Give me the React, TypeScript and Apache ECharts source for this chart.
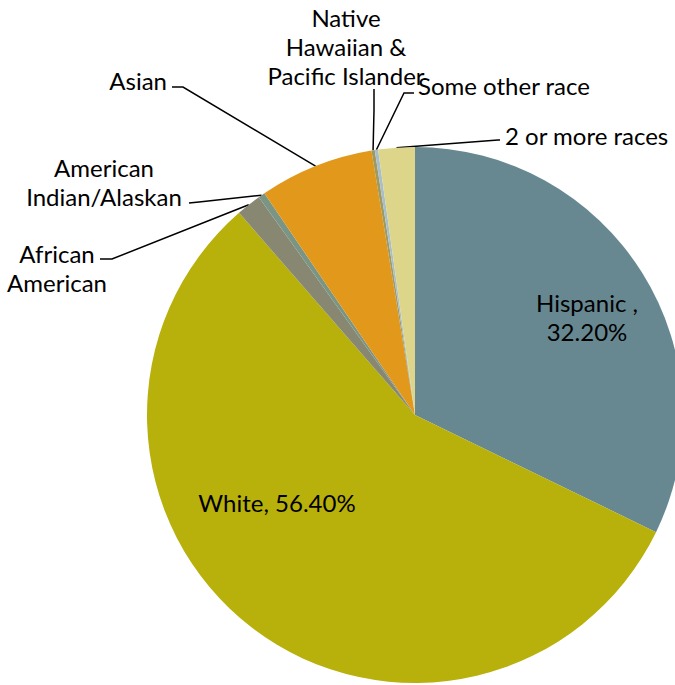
import React, { useEffect, useRef } from "react";
import * as echarts from "echarts";

const categories = [
  "Hispanic",
  "White",
  "African American",
  "American Indian/Alaskan",
  "Asian",
  "Native Hawaiian & Pacific Islander",
  "Some other race",
  "2 or more races",
];
const values = [32.2, 56.4, 1.5, 0.4, 6.9, 0.2, 0.2, 2.2];
const labelTexts = [
  "Hispanic ,\n32.20%",
  "White, 56.40%",
  "African\nAmerican",
  "American\nIndian/Alaskan",
  "Asian",
  "Native\nHawaiian &\nPacific Islander",
  "Some other race",
  "2 or more races",
];
const colors = [
  "#678891",
  "#B8B00B",
  "#888872",
  "#7B9585",
  "#E2981B",
  "#A19A5E",
  "#A8BFCB",
  "#DDD68A",
];

type Pt = [number, number];
// label placement (layout only)
const labelPlacement: {
  x: number;
  y: number;
  align: string;
  line: Pt[] | null;
}[] = [
  { x: 587, y: 317, align: "center", line: null },
  { x: 277, y: 502, align: "center", line: null },
  { x: 57, y: 268, align: "center", line: [[112, 259], [100, 259]] },
  { x: 104, y: 182, align: "center", line: [[199, 202], [189, 203]] },
  { x: 167, y: 80, align: "right", line: [[183, 87], [172, 87]] },
  { x: 346, y: 46, align: "center", line: [[374, 110], [374, 89]] },
  { x: 418, y: 85, align: "left", line: [[404, 93], [414, 93]] },
  { x: 505, y: 135, align: "left", line: [[498, 140], [500, 140]] },
];

const CX = 415;
const CY = 415;
const R = 268;

export default function App() {
  const ref = useRef<HTMLDivElement>(null);
  useEffect(() => {
    if (!ref.current) return;
    const chart = echarts.init(ref.current, null, { renderer: "svg" });
    const data = categories.map((name, i) => ({
      name,
      value: values[i],
      itemStyle: { color: colors[i] },
      label: {
        formatter: labelTexts[i],
        position: labelPlacement[i].line ? "outside" : "inside",
      },
      labelLine: { show: !!labelPlacement[i].line },
    }));
    chart.setOption({
      animation: false,
      backgroundColor: "#ffffff",
      series: [
        {
          type: "pie",
          center: [CX, CY],
          radius: R,
          startAngle: 90,
          clockwise: true,
          avoidLabelOverlap: false,
          itemStyle: { borderWidth: 0 },
          label: {
            color: "#000000",
            fontFamily: "Lato",
            fontSize: 24,
            lineHeight: 29,
          },
          labelLine: {
            lineStyle: { color: "#000000", width: 1.5 },
            smooth: false,
          },
          emphasis: { disabled: true },
          labelLayout: (params: any) => {
            const p = labelPlacement[params.dataIndex];
            const out: any = {
              x: p.x,
              y: p.y,
              align: p.align,
              verticalAlign: "middle",
            };
            if (p.line && params.labelLinePoints) {
              out.labelLinePoints = [params.labelLinePoints[0], ...p.line];
            }
            return out;
          },
          data,
        },
      ],
    });
    return () => chart.dispose();
  }, []);
  return (
    <div
      ref={ref}
      style={{ position: "fixed", left: 0, top: 0, width: 675, height: 685 }}
    />
  );
}
